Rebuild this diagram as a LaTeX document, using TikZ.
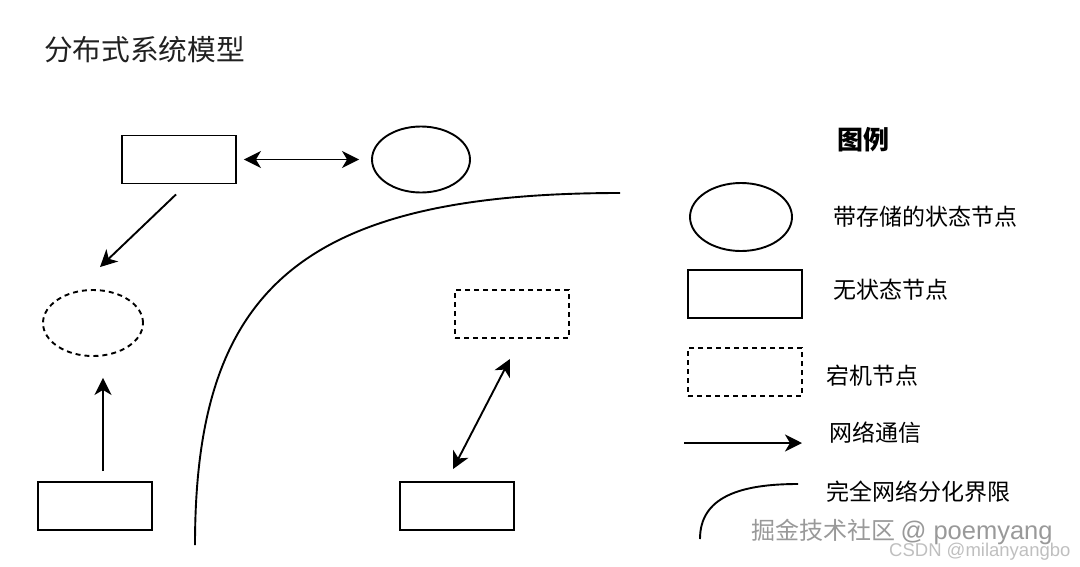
\documentclass[tikz,border=0pt]{standalone}
\usepackage{fontspec}
\setmainfont{Noto Sans CJK SC}
\newfontfamily\latinsans{Liberation Sans}
\usetikzlibrary{shapes.geometric,arrows.meta}
\tikzset{myhead/.tip={Stealth[length=17pt,width=17pt,inset=5pt]}}
\begin{document}
\begin{tikzpicture}[x=1pt,y=-1pt,
  lw/.style={line width=1.9pt},
  stateless/.style={lw,draw,rectangle,minimum width=114pt,minimum height=48pt,inner sep=0pt},
  stateful/.style={lw,draw,ellipse,minimum width=98pt,minimum height=66pt,inner sep=0pt},
  downnode/.style={lw,draw,dash pattern=on 5pt off 4pt},
  net/.style={lw,-myhead},
  netboth/.style={lw,myhead-myhead},
  label/.style={anchor=west,inner sep=0pt,font=\fontsize{23pt}{26pt}\selectfont},
]
\useasboundingbox (0,0) rectangle (1080,566);
% title
\node[anchor=west,inner sep=0pt,font=\fontsize{28.7pt}{32pt}\selectfont,text=black!87] (title) at (44,50) {分布式系统模型};
% nodes
\node[stateless] (A) at (179,159.5) {};
\node[stateful] (B) at (421,159.5) {};
\node[stateful,downnode,minimum width=100pt,minimum height=66pt] (C) at (93,323) {};
\node[stateless] (D) at (95,506) {};
\node[stateless,downnode] (E) at (512,314) {};
\node[stateless] (F) at (457,506) {};
% connectors
\draw[netboth] ([xshift=7pt]A.east) -- ([xshift=-12pt]B.west);
\draw[net] ([xshift=-3pt,yshift=-10pt]A.south) -- ([xshift=7pt,yshift=22pt]C.north);
\draw[net] ([xshift=8pt,yshift=10pt]D.north) -- ([xshift=10pt,yshift=-21pt]C.south);
\draw[netboth] ([xshift=-4pt,yshift=12pt]F.north) -- ([xshift=-2pt,yshift=-20pt]E.south);
% partition curve
\coordinate (p0) at (195,545);
\coordinate (p1) at (620,193);
\draw[lw] (p0) .. controls (195,290) and (300,193) .. (p1);
% legend
\node[inner sep=0pt,font=\fontsize{26pt}{30pt}\selectfont\bfseries] (lg) at (863,140) {图例};
\node[stateful,minimum width=102pt,minimum height=68pt] (L1) at (741,217) {};
\node[label] (t1) at (833,217) {带存储的状态节点};
\node[stateless] (L2) at (745,294) {};
\node[label] (t2) at (833,290) {无状态节点};
\node[stateless,downnode] (L3) at (745,372) {};
\node[label] (t3) at (826,376) {宕机节点};
\coordinate (a0) at (684,443);
\coordinate (a1) at (802,443);
\draw[net] (a0) -- (a1);
\node[label] (t4) at (829,433) {网络通信};
\coordinate (c0) at (700,539);
\coordinate (c1) at (798,484);
\draw[lw] (c0) .. controls (700,497) and (740,484) .. (c1);
\node[label] (t5) at (826,492) {完全网络分化界限};
% watermarks
\node[anchor=west,inner sep=0pt,text=black!40,font=\fontsize{24pt}{28pt}\selectfont] (w1) at (751,532) {掘金技术社区 {\latinsans\fontsize{25.5pt}{28pt}\selectfont @ poemyang}};
\node[anchor=west,inner sep=0pt,text=black!25,font=\latinsans\fontsize{18.5pt}{22pt}\selectfont] (w2) at (889,552) {CSDN @milanyangbo};
\end{tikzpicture}
\end{document}
